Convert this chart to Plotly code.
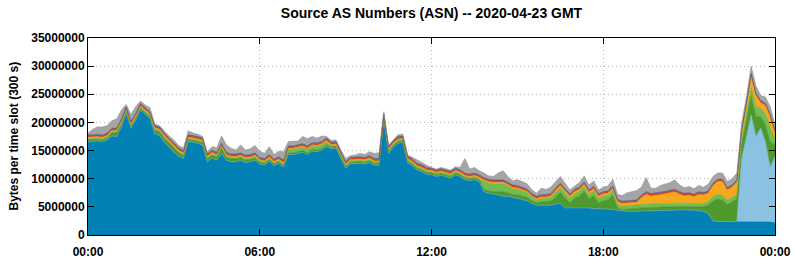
import numpy as np
import pandas as pd
import plotly.graph_objects as go

# 10-minute samples over 2020-04-23 (values in millions of bytes per 300 s slot)
times = pd.date_range("2020-04-23 00:00", periods=145, freq="10min")

total = [
    18.1, 18.8, 19.2, 19.2, 19.4, 20.3, 20.6, 22.2, 23.2, 21.4,
    22.8, 23.8, 23.1, 22.6, 19.7, 19.4, 18.5, 17.6, 16.9, 15.9,
    15.4, 18.5, 18.1, 17.9, 17.5, 14.8, 15.7, 15.5, 17.6, 16.0,
    15.4, 15.1, 16.0, 15.1, 15.3, 15.9, 14.9, 14.5, 15.7, 14.3,
    14.9, 14.8, 16.6, 16.7, 16.7, 17.5, 17.1, 17.5, 17.2, 17.6,
    17.5, 16.8, 16.9, 15.1, 13.6, 14.1, 14.2, 14.5, 14.3, 14.8,
    14.5, 14.6, 21.9, 16.0, 17.0, 17.8, 17.9, 14.2, 13.8, 13.3,
    12.9, 12.4, 12.0, 11.7, 12.0, 11.8, 11.55, 12.1, 12.0, 13.6,
    11.7, 12.0, 11.4, 11.0, 10.5, 10.4, 11.0, 11.4, 10.4, 9.65,
    9.8, 9.5, 9.1, 8.1, 7.4, 8.3, 8.1, 8.5, 9.5, 10.4,
    9.2, 8.0, 8.7, 9.3, 10.5, 8.9, 9.6, 8.0, 8.5, 8.7,
    9.9, 7.2, 7.0, 7.5, 7.7, 7.9, 8.5, 10.2, 8.3, 8.3,
    8.8, 9.0, 9.3, 9.8, 8.9, 8.4, 8.6, 8.2, 8.8, 8.5,
    9.0, 10.4, 11.0, 11.0, 9.5, 10.0, 11.0, 19.8, 24.5, 30.0,
    26.5, 24.8, 24.5, 22.8, 19.5]

blue = [
    16.6, 16.7, 16.7, 16.6, 16.9, 17.6, 17.5, 19.2, 21.6, 19.0,
    20.4, 22.2, 21.4, 20.7, 18.0, 17.7, 16.5, 15.6, 14.7, 14.0,
    13.6, 16.6, 16.5, 16.3, 16.0, 13.0, 13.7, 13.3, 14.5, 13.3,
    13.0, 13.0, 13.3, 12.9, 13.0, 13.3, 12.6, 12.4, 13.1, 12.3,
    12.7, 12.1, 14.3, 14.3, 14.5, 14.7, 14.3, 14.9, 14.8, 15.1,
    15.7, 15.3, 15.4, 13.6, 11.85, 12.6, 12.7, 12.7, 12.6, 12.9,
    12.4, 12.4, 20.4, 14.5, 15.6, 16.3, 16.4, 12.8, 12.3, 11.55,
    11.25, 10.8, 10.7, 10.4, 10.6, 10.4, 10.1, 10.7, 10.4, 9.8,
    9.65, 9.8, 9.5, 7.7, 7.4, 7.3, 7.1, 6.9, 6.9, 6.7,
    6.5, 6.3, 6.1, 5.6, 5.3, 5.3, 5.3, 5.3, 5.5, 5.6,
    4.8, 4.8, 4.9, 4.9, 4.8, 4.8, 4.7, 4.7, 4.6, 4.6,
    4.5, 4.4, 4.2, 4.2, 4.2, 4.2, 4.2, 4.25, 4.3, 4.3,
    4.35, 4.4, 4.4, 4.45, 4.45, 4.45, 4.45, 4.4, 4.3, 4.2,
    3.8, 2.5, 2.4, 2.4, 2.4, 2.4, 2.35, 2.35, 2.3, 2.4,
    2.35, 2.3, 2.3, 2.3, 2.2]

ltblue = [0.0] * 137 + [11.15, 15.2, 18.9, 15.15, 16.7, 14.2, 9.7, 11.8]

dkgreen = [
    0.3, 0.3, 0.3, 0.3, 0.3, 0.5, 0.6, 0.5, 0.3, 0.3,
    0.3, 0.3, 0.3, 0.3, 0.6, 0.6, 0.7, 0.7, 0.7, 0.6,
    0.5, 0.3, 0.3, 0.3, 0.4, 0.5, 0.5, 0.5, 0.9, 0.5,
    0.5, 0.5, 0.4, 0.4, 0.4, 0.4, 0.3, 0.3, 0.3, 0.3,
    0.3, 0.3, 0.3, 0.3, 0.3, 0.3, 0.3, 0.3, 0.3, 0.3,
    0.3, 0.3, 0.3, 0.3, 0.3, 0.3, 0.3, 0.3, 0.3, 0.3,
    0.3, 0.3, 0.3, 0.3, 0.3, 0.3, 0.3, 0.3, 0.3, 0.3,
    0.3, 0.3, 0.3, 0.3, 0.3, 0.3, 0.3, 0.3, 0.3, 0.3,
    0.3, 0.3, 0.3, 0.4, 0.4, 0.4, 0.6, 0.8, 0.6, 0.5,
    0.6, 0.6, 0.6, 0.5, 0.4, 0.6, 0.6, 0.7, 1.2, 2.0,
    1.8, 0.9, 1.6, 2.0, 3.0, 1.6, 2.3, 1.0, 1.5, 1.6,
    2.6, 0.4, 0.3, 0.4, 0.5, 0.5, 0.6, 0.6, 0.6, 0.6,
    0.6, 0.6, 0.6, 0.6, 0.6, 0.6, 0.6, 0.6, 0.7, 0.8,
    1.5, 3.5, 4.0, 3.8, 3.0, 3.5, 4.0, 2.5, 3.0, 3.3,
    3.5, 2.0, 3.0, 4.5, 2.0]

ltgreen = ([0.25] * 42 + [0.6] * 9 + [0.25] * 32 +
           [1.4, 1.4, 1.4, 1.4, 1.4, 1.2, 1.0, 1.0, 0.9, 0.8, 0.6, 0.5, 0.6, 0.6, 0.7] +
           [0.8] * 13 + [0.6] * 19 +
           [0.6, 0.8, 0.8, 0.8, 0.8, 0.8, 0.8] +
           [0.8, 1.0, 1.5, 1.8, 1.5, 2.0, 2.5, 1.0])

orange = ([0.2] * 83 + [0.25] * 15 + [0.4] * 13 + [0.5] * 5 +
          [1.2, 1.8, 1.4, 1.5, 1.6, 1.7, 1.9, 2.0, 1.6, 1.3, 1.4, 1.2, 1.6, 1.5] +
          [1.5, 2.0, 2.3, 2.5, 1.8, 1.8, 2.2] +
          [1.5, 1.6, 2.2, 2.0, 1.0, 1.5, 2.0, 1.2])

red = [0.3] * 116 + [0.35] * 14 + [0.3] * 15
navy = [0.12] * 98 + [0.1] * 47

layers = [
    ("blue", blue, "#0381b5", "#04719f"),
    ("ltblue", ltblue, "#8bc2e1", "#6faed2"),
    ("dkgreen", dkgreen, "#4e9a2c", "#3f8a22"),
    ("ltgreen", ltgreen, "#72bd52", "#5fae40"),
    ("orange", orange, "#f6a91c", "#e59812"),
    ("red", red, "#d9481c", "#c23a12"),
    ("navy", navy, "#3d5ca3", "#2f4d92"),
]

stack_sum = np.zeros(len(total))
for _, vals, _, _ in layers:
    stack_sum += np.array(vals)
gray = np.clip(np.array(total) - stack_sum, 0, None)
layers.append(("gray", list(gray), "#a5a5a5", "#8e8e8e"))

fig = go.Figure()
for name, vals, fillc, linec in layers:
    fig.add_trace(go.Scatter(
        x=times, y=np.array(vals) * 1e6, name=name, mode="lines",
        stackgroup="one", fillcolor=fillc,
        line=dict(width=0.6, color=linec),
        hoverinfo="skip",
    ))

fig.update_layout(
    width=795, height=260,
    margin=dict(l=88, r=20, t=38, b=25),
    paper_bgcolor="white", plot_bgcolor="white",
    showlegend=False,
    font=dict(family="Liberation Sans, Arial, sans-serif", size=12, color="black"),
    title=dict(text="<b>Source AS Numbers (ASN) -- 2020-04-23 GMT</b>",
               x=0.5, xref="paper", xanchor="center",
               y=1 - 13 / 260, yref="container", yanchor="middle",
               font=dict(size=14, color="black")),
)

grid_kw = dict(showgrid=True, gridcolor="#b8b8b8", griddash="1px,3px", gridwidth=1)

fig.update_xaxes(
    range=["2020-04-23 00:00", "2020-04-24 00:00"],
    tick0="2020-04-23 00:00", dtick=6 * 3600 * 1000,
    tickformat="%H:%M",
    tickfont=dict(size=12, weight="bold"),
    ticks="inside", ticklen=6, tickcolor="black",
    ticklabelstandoff=6,
    showline=True, linecolor="black", linewidth=1, mirror="allticks",
    zeroline=False, automargin=False, **grid_kw,
)
fig.update_yaxes(
    range=[0, 35e6],
    tickvals=[0, 5e6, 10e6, 15e6, 20e6, 25e6, 30e6, 35e6],
    ticktext=["0", "5000000", "10000000", "15000000", "20000000",
              "25000000", "30000000", "35000000"],
    tickfont=dict(size=12, weight="bold"),
    ticks="inside", ticklen=6, tickcolor="black",
    showline=True, linecolor="black", linewidth=1, mirror="allticks",
    zeroline=False, automargin=False, **grid_kw,
)

fig.add_annotation(
    text="<b>Bytes per time slot (300 s)</b>",
    xref="paper", yref="paper", x=(13 - 88) / 687, y=0.5,
    xanchor="center", yanchor="middle", textangle=-90,
    showarrow=False, font=dict(size=12, color="black"),
)

fig.write_html("out.html")
